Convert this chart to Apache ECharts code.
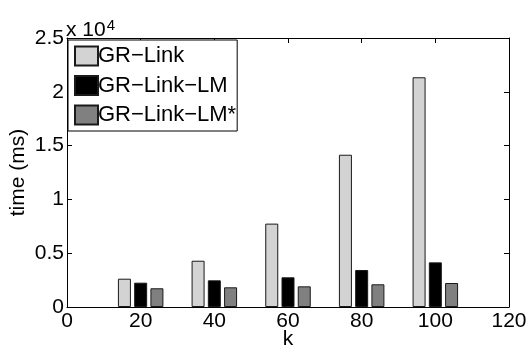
<!DOCTYPE html>
<html>
<head>
<meta charset="utf-8">
<script src="https://cdn.jsdelivr.net/npm/echarts@6/dist/echarts.min.js"></script>
<style>
  html, body { margin: 0; padding: 0; background: #fff; }
  #chart { width: 528px; height: 347px; }
</style>
</head>
<body>
<div id="chart"></div>
<script>
// k values (x positions of the bar groups)
const kValues = [20, 40, 60, 80, 100];
// running time in ms for each method
const grLink = [2630, 4300, 7750, 14150, 21350];
const grLinkLM = [2260, 2480, 2760, 3440, 4150];
const grLinkLMStar = [1740, 1830, 1920, 2110, 2230];
const seriesNames = ['GR\u2212Link', 'GR\u2212Link\u2212LM', 'GR\u2212Link\u2212LM*'];
const seriesColors = ['#d3d3d3', '#000000', '#808080'];
// axis ranges / ticks
const xTicks = { min: 0, max: 120, interval: 20 };
const yTicks = { min: 0, max: 25000, interval: 5000 };

const FONT = '"Liberation Sans", Arial, Helvetica, sans-serif';
const chart = echarts.init(document.getElementById('chart'), null, { renderer: 'canvas' });

function pairs(values) {
  return kValues.map((k, i) => [k, values[i]]);
}

const axisLine = { show: true, onZero: false, lineStyle: { color: '#000', width: 1 } };
const tickInside = { show: true, inside: true, length: 5, lineStyle: { color: '#000', width: 1 } };

const option = {
  animation: false,
  backgroundColor: '#fff',
  textStyle: { fontFamily: FONT },
  grid: { left: 67, right: 19, top: 38, bottom: 40, containLabel: false, outerBoundsMode: 'none' },
  legend: {
    orient: 'vertical',
    left: 68, top: 40,
    data: seriesNames,
    backgroundColor: '#fff',
    borderColor: '#000', borderWidth: 1,
    padding: [5, 1, 5, 6],
    itemGap: 7.5,
    itemWidth: 23, itemHeight: 19,
    icon: 'rect',
    textStyle: { fontFamily: FONT, fontSize: 22, color: '#000', padding: [0, 0, 0, -5] }
  },
  xAxis: [
    {
      type: 'value', min: xTicks.min, max: xTicks.max, interval: xTicks.interval,
      position: 'bottom',
      name: 'k', nameLocation: 'middle', nameGap: 22, nameMoveOverlap: false,
      nameTextStyle: { fontFamily: FONT, fontSize: 21, color: '#000' },
      axisLine: axisLine, axisTick: tickInside,
      axisLabel: { fontFamily: FONT, fontSize: 21, color: '#000', margin: 4 },
      splitLine: { show: false }
    },
    {
      type: 'value', min: xTicks.min, max: xTicks.max, interval: xTicks.interval,
      position: 'top',
      axisLine: axisLine, axisTick: tickInside,
      axisLabel: { show: false }, splitLine: { show: false }
    }
  ],
  yAxis: [
    {
      type: 'value', min: yTicks.min, max: yTicks.max, interval: yTicks.interval,
      position: 'left',
      name: 'time (ms)', nameLocation: 'middle', nameGap: 38, nameMoveOverlap: false,
      nameTextStyle: { fontFamily: FONT, fontSize: 21, color: '#000' },
      axisLine: axisLine, axisTick: tickInside,
      axisLabel: {
        fontFamily: FONT, fontSize: 21, color: '#000', margin: 3,
        formatter: v => String(v / 10000)
      },
      splitLine: { show: false }
    },
    {
      type: 'value', min: yTicks.min, max: yTicks.max, interval: yTicks.interval,
      position: 'right',
      axisLine: axisLine, axisTick: tickInside,
      axisLabel: { show: false }, splitLine: { show: false }
    }
  ],
  graphic: [
    {
      type: 'text', left: 66, top: 18,
      style: {
        text: 'x 10{sup|4}',
        fontFamily: FONT, fontSize: 21, fill: '#000',
        rich: { sup: { fontFamily: FONT, fontSize: 15, fill: '#000', verticalAlign: 'top', padding: [0, 0, 10, 1] } }
      }
    }
  ],
  series: [grLink, grLinkLM, grLinkLMStar].map((vals, i) => ({
    name: seriesNames[i],
    type: 'bar',
    data: pairs(vals),
    barWidth: 13,
    barGap: '25%',
    itemStyle: { color: seriesColors[i], borderColor: '#1a1a1a', borderWidth: 1 }
  }))
};

chart.setOption(option);
</script>
</body>
</html>
